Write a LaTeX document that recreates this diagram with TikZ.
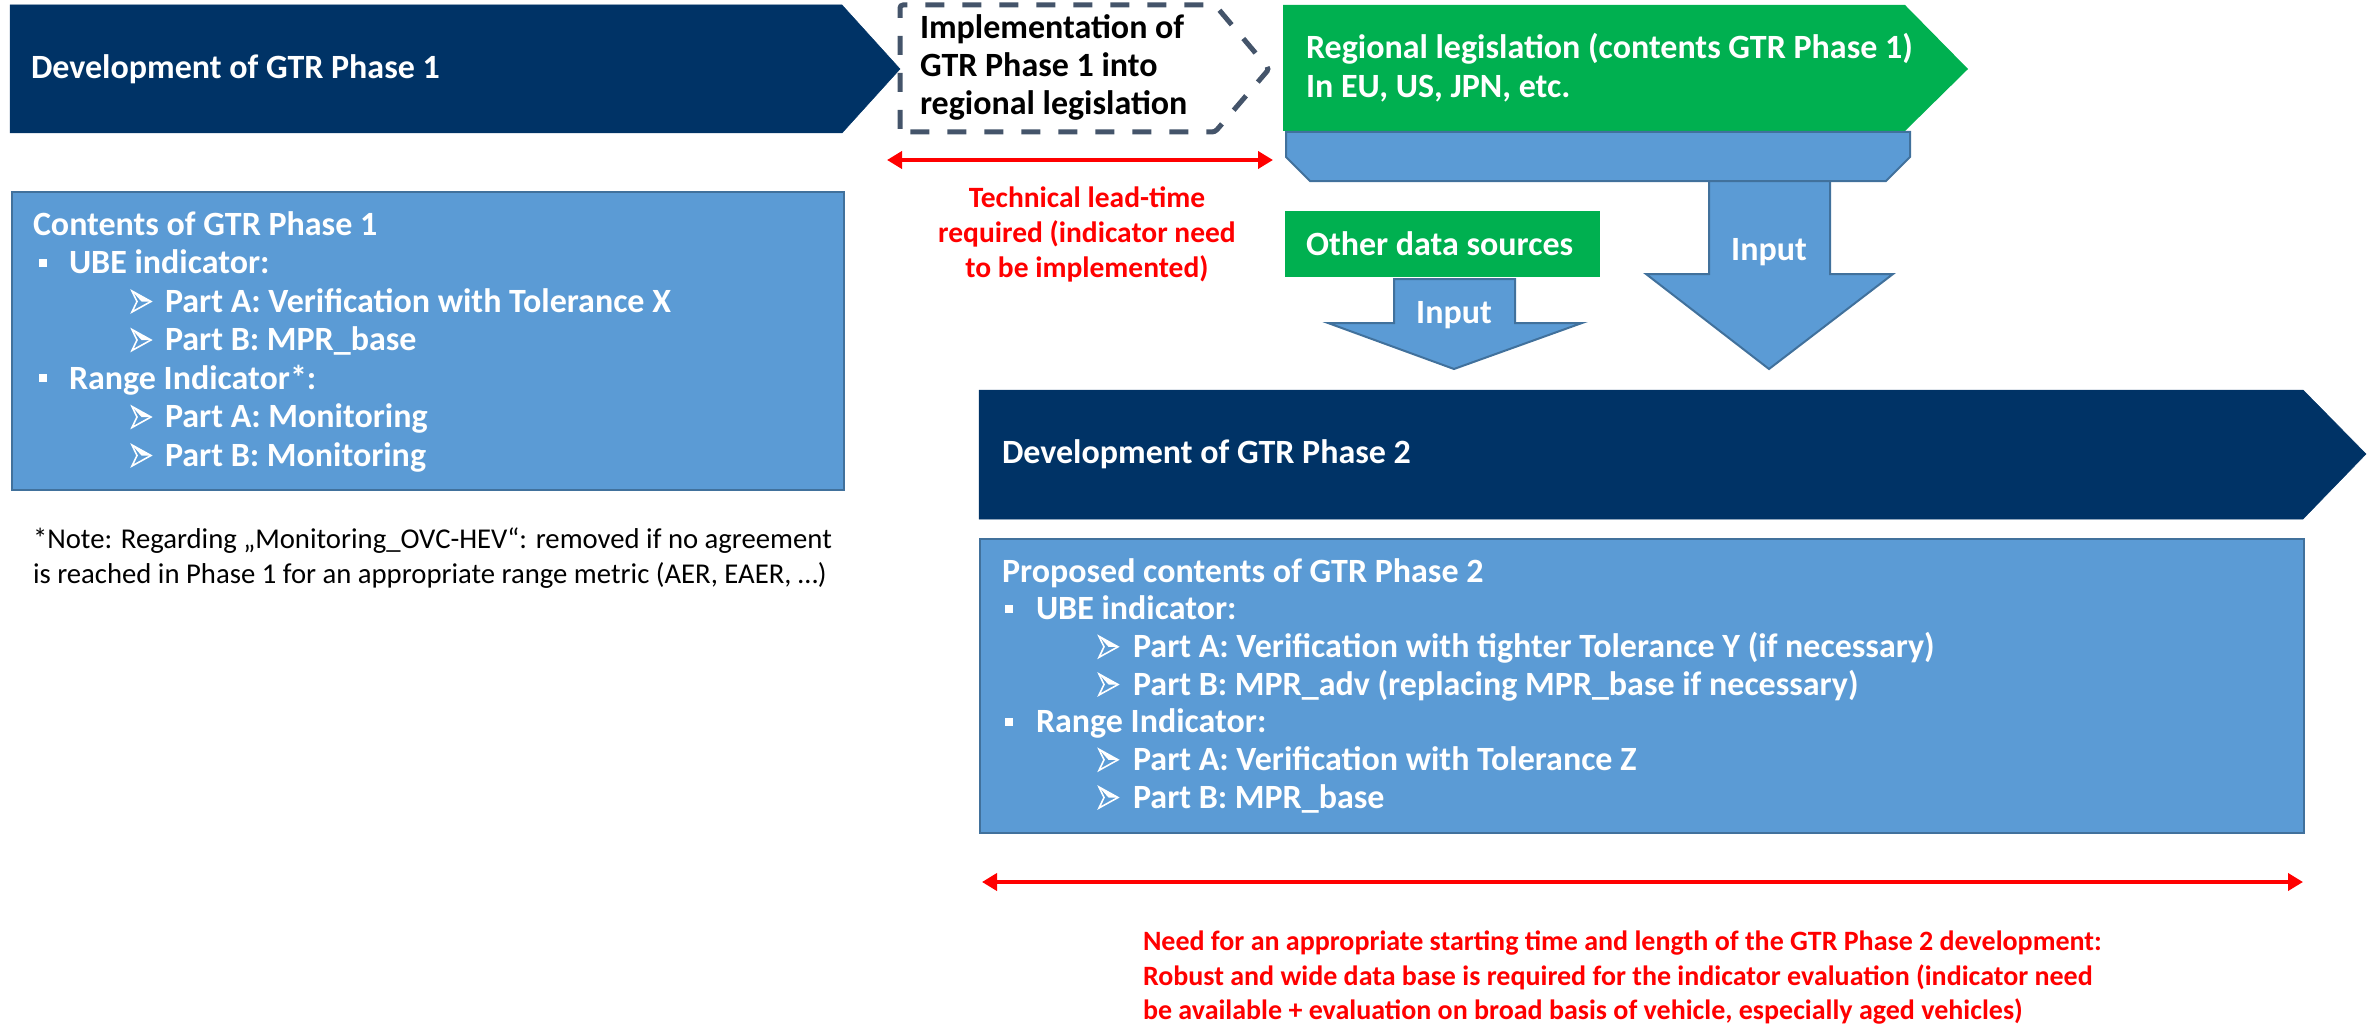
\documentclass[tikz,border=0pt]{standalone}
\usepackage{fontspec}
\setmainfont{Carlito}
\usetikzlibrary{arrows.meta}
\definecolor{navy}{RGB}{0,51,102}
\definecolor{boxblue}{RGB}{91,155,213}
\definecolor{boxedge}{RGB}{65,113,156}
\definecolor{legal}{RGB}{0,176,80}
\definecolor{dashgray}{RGB}{68,84,106}
\definecolor{alert}{RGB}{255,0,0}
\begin{document}
\begin{tikzpicture}[x=1pt,y=-1pt,
  every node/.style={inner sep=0pt,outer sep=0pt},
  wtxt/.style={font=\fontsize{34}{40}\selectfont\bfseries,text=white,anchor=base west},
  ktxt/.style={font=\fontsize{34}{40}\selectfont\bfseries,text=black,anchor=base west},
  rtxt/.style={font=\fontsize{28}{34}\selectfont\bfseries,text=alert},
  ltxt/.style={font=\fontsize{29.5}{35}\selectfont\bfseries,text=alert,anchor=base},
  ntxt/.style={font=\fontsize{28.7}{34}\selectfont,text=black,anchor=base west},
  barshape/.style={fill=navy,draw=navy,line width=0.5pt},
  panel/.style={fill=boxblue,draw=boxedge,line width=2.5pt},
  legalshape/.style={fill=legal},
  blockarrow/.style={fill=boxblue,draw=boxedge,line width=2pt,line join=miter},
  span/.style={draw=alert,line width=4pt,{Triangle[length=15pt,width=17pt]}-{Triangle[length=15pt,width=17pt]}},
  sq/.pic={\fill[white] (0,-15) rectangle (8,-7);},
  arrbul/.pic={\fill[white] (0,-21) -- (19,-10.5) -- (9.5,-10.5) -- cycle;
               \draw[white,line width=1.6pt,line join=miter] (0,-21) -- (19,-10.5) -- (0,0) -- (5,-10.5) -- cycle;}
]
\useasboundingbox (0,0) rectangle (2369,1030);

% ---------- top row ----------
\path[barshape] (10,5) -- (842,5) -- (900,69) -- (842,133) -- (10,133) -- cycle;
\node[wtxt] (dev1) at (31,79) {Development of GTR Phase 1};

\draw[dashgray,line width=5pt,dash pattern=on 19pt off 18pt,rounded corners=3pt]
  (900,132) -- (900,5) -- (1215,5) -- (1269,69) -- (1215,132) -- cycle;
\node[ktxt] (impl1) at (920,39) {Implementation of};
\node[ktxt] (impl2) at (920,77) {GTR Phase 1 into};
\node[ktxt] (impl3) at (920,115) {regional legislation};

\path[legalshape] (1283,5) -- (1905,5) -- (1968,69) -- (1905,131) -- (1283,131) -- cycle;
\node[wtxt] (reg1) at (1306,59) {Regional legislation (contents GTR Phase 1)};
\node[wtxt] (reg2) at (1306,98) {In EU, US, JPN, etc.};

% collector under the regional legislation bar
\path[blockarrow] (1286,132) -- (1910,132) -- (1910,157) -- (1886,181) -- (1310,181) -- (1286,157) -- cycle;

% lead-time span
\coordinate (lt1) at (887,160);
\coordinate (lt2) at (1273,160);
\draw[span] (lt1) -- (lt2);
\node[ltxt] (lta) at (1087,207) {Technical lead-time};
\node[ltxt] (ltb) at (1087,242) {required (indicator need};
\node[ltxt] (ltc) at (1087,277) {to be implemented)};

% ---------- inputs ----------
\path[legalshape] (1285,211) rectangle (1600,277);
\node[wtxt] (oth) at (1306,255) {Other data sources};

\path[blockarrow] (1709,181) -- (1830,181) -- (1830,274) -- (1893,274) -- (1769,369) -- (1646,274) -- (1709,274) -- cycle;
\node[wtxt,anchor=base] (inbig) at (1769,260) {Input};

\path[blockarrow] (1394,279) -- (1515,279) -- (1515,323) -- (1582,323) -- (1454,369) -- (1328,323) -- (1394,323) -- cycle;
\node[wtxt,anchor=base] (insmall) at (1454,323) {Input};

% ---------- phase 1 contents ----------
\path[panel] (12,192) rectangle (844,490);
\node[wtxt] (c1t) at (33,235) {Contents of GTR Phase 1};
\pic at (39,273.5) {sq};
\node[wtxt] (c1a) at (69,273.5) {UBE indicator:};
\pic at (132,312) {arrbul};
\node[wtxt] (c1b) at (165,312) {Part A: Verification with Tolerance X};
\pic at (132,350.5) {arrbul};
\node[wtxt] (c1c) at (165,350.5) {Part B: MPR\_base};
\pic at (39,389) {sq};
\node[wtxt] (c1d) at (69,389) {Range Indicator*:};
\pic at (132,427.5) {arrbul};
\node[wtxt] (c1e) at (165,427.5) {Part A: Monitoring};
\pic at (132,466) {arrbul};
\node[wtxt] (c1f) at (165,466) {Part B: Monitoring};

\node[ntxt] (note1) at (33,548) {*Note: Regarding „Monitoring\_OVC-HEV“: removed if no agreement};
\node[ntxt] (note2) at (33,583) {is reached in Phase 1 for an appropriate range metric (AER, EAER, …)};

% ---------- phase 2 ----------
\path[barshape] (979,390) -- (2303,390) -- (2366,454) -- (2303,519) -- (979,519) -- cycle;
\node[wtxt] (dev2) at (1002,463) {Development of GTR Phase 2};

\path[panel] (980,539) rectangle (2304,833);
\node[wtxt] (c2t) at (1002,582) {Proposed contents of GTR Phase 2};
\pic at (1005,619.7) {sq};
\node[wtxt] (c2a) at (1036,619.7) {UBE indicator:};
\pic at (1099,657.3) {arrbul};
\node[wtxt] (c2b) at (1133,657.3) {Part A: Verification with tighter Tolerance Y (if necessary)};
\pic at (1099,695) {arrbul};
\node[wtxt] (c2c) at (1133,695) {Part B: MPR\_adv (replacing MPR\_base if necessary)};
\pic at (1005,732.7) {sq};
\node[wtxt] (c2d) at (1036,732.7) {Range Indicator:};
\pic at (1099,770.3) {arrbul};
\node[wtxt] (c2e) at (1133,770.3) {Part A: Verification with Tolerance Z};
\pic at (1099,808) {arrbul};
\node[wtxt] (c2f) at (1133,808) {Part B: MPR\_base};

% development span
\coordinate (nd1) at (982,882);
\coordinate (nd2) at (2303,882);
\draw[span] (nd1) -- (nd2);
\node[rtxt,anchor=base west] (nda) at (1143,950) {Need for an appropriate starting time and length of the GTR Phase 2 development:};
\node[rtxt,anchor=base west] (ndb) at (1143,985) {Robust and wide data base is required for the indicator evaluation (indicator need};
\node[rtxt,anchor=base west] (ndc) at (1143,1019) {be available + evaluation on broad basis of vehicle, especially aged vehicles)};
\end{tikzpicture}
\end{document}
